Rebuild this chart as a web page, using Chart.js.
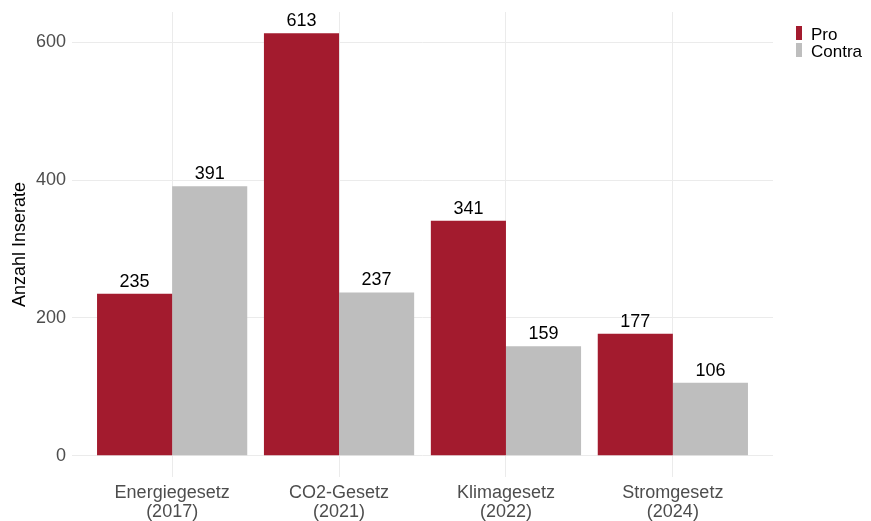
<!DOCTYPE html>
<html>
<head>
<meta charset="utf-8">
<script src="https://cdn.jsdelivr.net/npm/chart.js@4"></script>
<style>
  html, body { margin: 0; padding: 0; background: #ffffff; }
  #wrap { width: 871px; height: 521px; position: relative; }
</style>
</head>
<body>
<div id="wrap"><canvas id="c" width="871" height="521"></canvas></div>
<script>
const categories = [["Energiegesetz", "(2017)"], ["CO2-Gesetz", "(2021)"], ["Klimagesetz", "(2022)"], ["Stromgesetz", "(2024)"]];
const proValues = [235, 613, 341, 177];
const contraValues = [391, 237, 159, 106];
const yTicks = [0, 200, 400, 600];
const seriesNames = ["Pro", "Contra"];
const seriesColors = ["#A31B2E", "#BEBEBE"];

const FONT = "'Liberation Sans', Arial, sans-serif";
const positions = categories.map((_, i) => i + 1);

const valueLabels = {
  id: 'valueLabels',
  afterDatasetsDraw(chart) {
    const ctx = chart.ctx;
    ctx.save();
    ctx.font = "18px " + FONT;
    ctx.fillStyle = "#000000";
    ctx.textAlign = "center";
    ctx.textBaseline = "alphabetic";
    chart.data.datasets.forEach((ds, di) => {
      const meta = chart.getDatasetMeta(di);
      meta.data.forEach((bar, i) => {
        ctx.fillText(String(ds.data[i].y), bar.x, bar.y - 7);
      });
    });
    ctx.restore();
  }
};

const customLegend = {
  id: 'customLegend',
  afterDraw(chart) {
    const ctx = chart.ctx;
    const area = chart.chartArea;
    ctx.save();
    ctx.font = "17px " + FONT;
    ctx.textAlign = "left";
    ctx.textBaseline = "alphabetic";
    chart.data.datasets.forEach((ds, i) => {
      const top = area.top + 14 + i * 17;
      ctx.fillStyle = ds.backgroundColor;
      ctx.fillRect(area.right + 23, top, 6, 14);
      ctx.fillStyle = "#000000";
      ctx.fillText(ds.label, area.right + 38, top + 14);
    });
    ctx.restore();
  }
};

new Chart(document.getElementById('c'), {
  type: 'bar',
  data: {
    datasets: [
      { label: seriesNames[0], data: positions.map((x, i) => ({ x: x, y: proValues[i] })), backgroundColor: seriesColors[0] },
      { label: seriesNames[1], data: positions.map((x, i) => ({ x: x, y: contraValues[i] })), backgroundColor: seriesColors[1] }
    ]
  },
  options: {
    responsive: false,
    animation: false,
    devicePixelRatio: 1,
    categoryPercentage: 0.9,
    barPercentage: 1.0,
    layout: { padding: { left: 0, right: 98, top: 12, bottom: 0 } },
    plugins: { legend: { display: false }, tooltip: { enabled: false } },
    scales: {
      x: {
        type: 'linear',
        min: 0.4,
        max: 4.6,
        offset: false,
        afterBuildTicks(scale) { scale.ticks = positions.map(v => ({ value: v })); },
        afterFit(scale) { scale.height = 44; scale.paddingLeft = 0; scale.paddingRight = 0; },
        grid: { color: '#ebebeb', lineWidth: 1, drawTicks: false, offset: false },
        border: { display: false },
        ticks: {
          padding: 7,
          color: '#4d4d4d',
          font: { family: FONT, size: 18, lineHeight: 1.05 },
          maxRotation: 0,
          autoSkip: false,
          callback(value) { return categories[value - 1] || ''; }
        }
      },
      y: {
        min: -30.65,
        max: 643.65,
        afterBuildTicks(scale) { scale.ticks = yTicks.map(v => ({ value: v })); },
        afterFit(scale) { scale.width = 72; scale.paddingTop = 0; scale.paddingBottom = 0; },
        grid: { color: '#ebebeb', lineWidth: 1, drawTicks: false },
        border: { display: false },
        ticks: {
          padding: 6,
          color: '#4d4d4d',
          font: { family: FONT, size: 18 },
          callback(value) { return String(value); }
        },
        title: {
          display: true,
          text: 'Anzahl Inserate',
          color: '#000000',
          font: { family: FONT, size: 18 },
          padding: { top: 9, bottom: 0 }
        }
      }
    }
  },
  plugins: [valueLabels, customLegend]
});
</script>
</body>
</html>
